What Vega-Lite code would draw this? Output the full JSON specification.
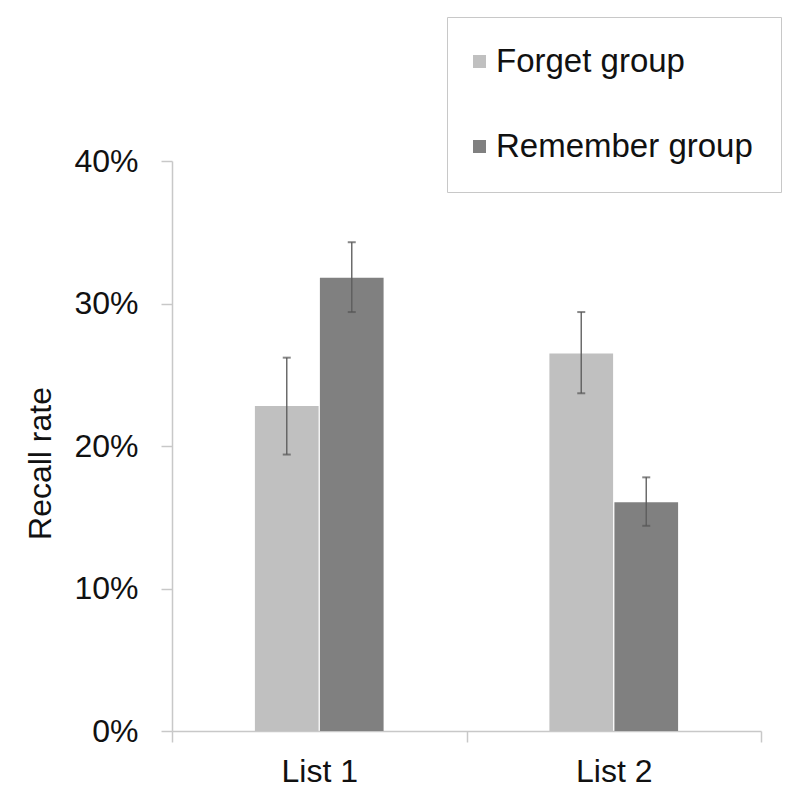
{
  "$schema": "https://vega.github.io/schema/vega-lite/v6.json",
  "width": 589,
  "height": 570,
  "padding": {"left": 24, "top": 16, "right": 10, "bottom": 10},
  "background": "white",
  "config": {
    "view": {"stroke": null},
    "font": "Liberation Sans",
    "axis": {"grid": false, "domainColor": "#c8c8c8", "domainWidth": 1.5, "tickColor": "#c8c8c8", "tickWidth": 1.5, "labelColor": "#111111", "titleColor": "#111111", "labelFont": "Liberation Sans", "titleFont": "Liberation Sans"}
  },
  "data": {
    "values": [
      {"list": "List 1", "group": "Forget group", "rate": 0.228, "lo": 0.194, "hi": 0.262},
      {"list": "List 1", "group": "Remember group", "rate": 0.318, "lo": 0.294, "hi": 0.343},
      {"list": "List 2", "group": "Forget group", "rate": 0.265, "lo": 0.237, "hi": 0.294},
      {"list": "List 2", "group": "Remember group", "rate": 0.1605, "lo": 0.144, "hi": 0.178}
    ]
  },
  "encoding": {
    "x": {
      "field": "list",
      "type": "nominal",
      "scale": {"paddingInner": 0, "paddingOuter": 0},
      "axis": {"title": null, "labelAngle": 0, "labelFontSize": 32, "labelPadding": 14, "tickSize": 11, "tickBand": "extent", "labelFontWeight": "normal"}
    },
    "xOffset": {
      "field": "group",
      "type": "nominal",
      "scale": {
        "domain": ["space before", "Forget group", "Remember group", "space after"],
        "paddingInner": 0.02,
        "paddingOuter": 0.2755
      }
    }
  },
  "layer": [
    {
      "mark": {"type": "bar"},
      "encoding": {
        "y": {
          "field": "rate",
          "type": "quantitative",
          "scale": {"domain": [0, 0.4], "nice": false},
          "axis": {
            "values": [0, 0.1, 0.2, 0.3, 0.4],
            "format": ".0%",
            "title": "Recall rate",
            "titleFontSize": 32,
            "titleFontWeight": "normal",
            "titleAngle": -90,
            "titleX": -132,
            "titleY": 302,
            "titleAlign": "center",
            "titleBaseline": "middle",
            "labelFontSize": 32,
            "labelPadding": 23,
            "tickSize": 11
          }
        },
        "color": {
          "field": "group",
          "type": "nominal",
          "scale": {"domain": ["Forget group", "Remember group"], "range": ["#c0c0c0", "#808080"]},
          "legend": {
            "title": null,
            "orient": "none",
            "legendX": 275,
            "legendY": -144,
            "padding": 28,
            "strokeColor": "#c8c8c8",
            "fillColor": "white",
            "symbolType": "square",
            "symbolSize": 169,
            "symbolStrokeWidth": 0,
            "symbolOffset": -12,
            "labelFontSize": 33,
            "labelOffset": 0,
            "labelColor": "#111111",
            "rowPadding": 51,
            "labelLimit": 400
          }
        }
      }
    },
    {
      "mark": {"type": "rule", "color": "#5c5c5c", "strokeWidth": 1.5, "opacity": 0.9},
      "encoding": {
        "y": {"field": "lo", "type": "quantitative"},
        "y2": {"field": "hi"}
      }
    },
    {
      "mark": {"type": "tick", "color": "#555555", "thickness": 2, "size": 8},
      "encoding": {
        "y": {"field": "lo", "type": "quantitative"}
      }
    },
    {
      "mark": {"type": "tick", "color": "#555555", "thickness": 2, "size": 8},
      "encoding": {
        "y": {"field": "hi", "type": "quantitative"}
      }
    }
  ]
}
